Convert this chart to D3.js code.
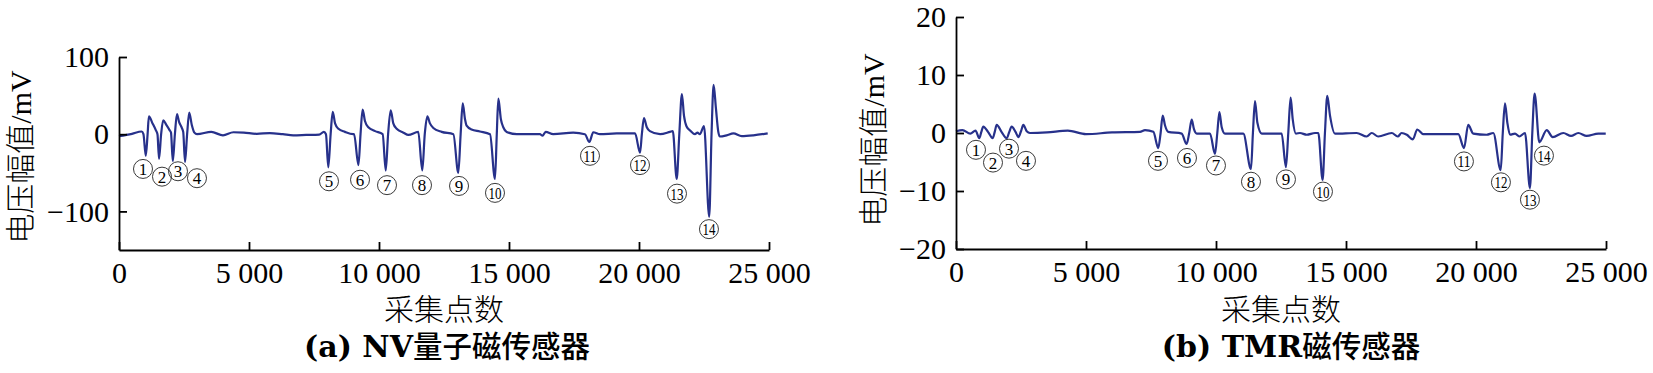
<!DOCTYPE html>
<html lang="zh">
<head>
<meta charset="utf-8">
<title>NV vs TMR</title>
<script src="https://cdn.jsdelivr.net/npm/d3@7"></script>
<style>
  body { margin: 0; background: #fff; }
  .curve { fill: none; stroke: #27318b; stroke-width: 2.2; stroke-linejoin: round; }
  .axis path, .axis line { stroke: #000; stroke-width: 1.8; }
  .tag circle { fill: none; stroke: #222; stroke-width: 0.9; }
</style>
</head>
<body>
<script>
// ---- data (sample index, voltage in mV) ----
var nvX = [0,500,870,940,1030,1100,1150,1290,1420,1480,1540,1620,1700,1820,1950,2000,2070,2150,2230,2310,2420,2470,2540,2620,2700,2800,2900,3000,3550,4000,4400,4800,5300,5800,6300,6700,7200,7700,7880,7960,8050,8140,8220,8310,8440,8690,9010,9040,9210,9290,9370,9460,9590,9850,10140,10260,10350,10450,10550,10680,10940,11130,11510,11665,11760,11860,11960,12090,12410,12860,13050,13140,13220,13310,13370,13560,13880,14270,14460,14530,14590,14690,14780,14910,15300,16190,16290,16410,16700,17470,17920,18090,18240,18500,19140,19850,20040,20110,20190,20300,20420,20810,21190,21300,21450,21550,21650,21730,21830,21990,22150,22250,22340,22500,22700,22790,22870,22960,23050,23110,23370,23630,23950,24400,24950];
var nvV = [-2.5,0.5,3.5,0,-28,0,23,14,5,0,-32,0,18,12,5,2,-35,0,26,16,8,3,-36,0,28,12,2,0,3,-1.5,2.5,2,0.5,1.5,0,-1.5,-1,-0.5,3,0,-43,0,29,14,7,3,0,0,-40,0,32,17,9,4,0,-47,0,31,14,7,2,-1,3,-47,0,23,14,8,3,0,-50,0,40,19,11,6,3.5,0,-58,0,46,19,9,3,0,0,-2,3,0,2,0,-10,2.5,0,1,1,-24,0,21,9,4,0,3,4,-58,0,52,24,10,4,0,2,0,10.5,-107,0,64,33,3,-3,-1.5,1,-2.5,-1.5,1];

var tmrX = [0,250,550,750,897,975,1050,1230,1410,1490,1565,1750,1950,2050,2140,2290,2400,2500,2590,2720,2846,3500,4300,5000,6000,7077,7270,7590,7780,7870,7950,8040,8165,8680,8870,8970,9065,9150,9260,9770,9960,10050,10130,10220,10345,11050,11345,11420,11500,11590,11760,12525,12690,12780,12870,12950,13075,13230,13490,13810,13935,14100,14190,14280,14385,14575,15410,15795,15990,16240,16760,16990,17140,17340,17570,17740,17970,19320,19540,19700,19895,20410,20665,20950,21030,21115,21205,21310,21500,21665,21885,22075,22165,22255,22435,22720,22950,23360,23655,23935,24255,24705,24990];
var tmrV = [0.3,0.5,-0.1,0.4,-0.9,0.2,1.1,0.2,-0.9,0.2,1.4,0.2,-0.9,0.2,1.1,0.2,-0.7,0.3,1.4,0.3,0,0.1,0.4,-0.2,0.1,0.2,0.5,0.2,-2.6,0,3.0,1.3,0.2,-0.1,-1.9,0,2.3,0.7,-0.1,-0.1,-3.6,0,3.6,1.0,-0.1,-0.1,-6.2,0,5.5,1.8,-0.1,-0.1,-5.9,0,6.1,2.4,-0.1,0,-0.3,0,0,-8.1,0,6.4,3.0,-0.1,0,-0.6,0,-0.6,0,-0.6,0,-0.3,-1.1,0.6,-0.2,-0.2,-2.6,1.4,-0.1,-0.3,0,-6.4,0,5.1,1.8,-0.3,-0.1,-0.6,0,-9.5,0,6.8,-1.6,0.5,-0.7,0,-0.5,0,-0.5,-0.1,-0.1];

// circled event labels: sample position and value where the label sits
var tagNames = ["1","2","3","4","5","6","7","8","9","10","11","12","13","14"];
var nvTagX = [923,1654,2269,2999,8077,9270,10308,11654,13078,14461,18115,20038,21461,22691];
var nvTagV = [-45,-55,-48,-57,-61,-59,-66,-66,-67,-76,-28,-40,-77,-123];
var tmrTagX = [769,1423,2038,2692,7769,8884,9999,11345,12691,14114,19536,20959,22075,22613];
var tmrTagV = [-2.9,-5.1,-2.7,-4.8,-4.8,-4.3,-5.6,-8.4,-8.0,-10.1,-4.9,-8.5,-11.5,-3.9];

// axes
var xTicks = [0,5000,10000,15000,20000,25000];
var xTickLabels = ["0","5 000","10 000","15 000","20 000","25 000"];
var nvYTicks = [-100,0,100];
var nvYTickLabels = ["\u2212100","0","100"];
var tmrYTicks = [-20,-10,0,10,20];
var tmrYTickLabels = ["\u221220","\u221210","0","10","20"];

var w = 1653, h = 373;
var serif = "'Liberation Serif','Times New Roman',serif";
var cjkSerif = "'Liberation Serif','Noto Sans CJK SC',serif";

var svg = d3.select("body").append("svg")
  .attr("width", w).attr("height", h);

function panel(opt) {
  var xScale = d3.scaleLinear().domain([0, 25000]).range([opt.left, opt.left + 650]);
  var yScale = d3.scaleLinear().domain(opt.yDomain).range([opt.bottom, opt.top]);

  var line = d3.line()
    .x(function(d){ return xScale(d[0]); })
    .y(function(d){ return yScale(d[1]); })
    .curve(d3.curveMonotoneX);

  var pts = d3.zip(opt.xs, opt.vs);
  svg.append("path").datum(pts).attr("class", "curve").attr("d", line);

  var xAxis = d3.axisBottom(xScale).tickValues(xTicks).tickSize(-8).tickSizeOuter(0)
    .tickPadding(12).tickFormat(function(d, i){ return xTickLabels[i]; });
  var yAxis = d3.axisLeft(yScale).tickValues(opt.yTicks).tickSize(-8).tickSizeOuter(0)
    .tickPadding(10).tickFormat(function(d, i){ return opt.yLabels[i]; });

  var gx = svg.append("g").attr("class", "axis")
    .attr("transform", "translate(0," + opt.bottom + ")").call(xAxis);
  var gy = svg.append("g").attr("class", "axis")
    .attr("transform", "translate(" + opt.left + ",0)").call(yAxis);
  [gx, gy].forEach(function(g){
    g.attr("font-family", serif).attr("font-size", 30);
    g.selectAll("text").attr("fill", "#000");
  });

  // circled numbers
  var tags = svg.append("g").selectAll("g.tag")
    .data(d3.zip(opt.tagX, opt.tagV, tagNames))
    .join("g").attr("class", "tag")
    .attr("transform", function(d){ return "translate(" + xScale(d[0]) + "," + yScale(d[1]) + ")"; });
  tags.append("circle").attr("r", 9.5);
  tags.append("text")
    .attr("text-anchor", "middle").attr("y", 6)
    .attr("font-family", serif).attr("font-size", 17).attr("fill", "#000")
    .each(function(d){
      if (d[2].length > 1) d3.select(this).attr("textLength", 13).attr("lengthAdjust", "spacingAndGlyphs");
    })
    .text(function(d){ return d[2]; });

  // y title
  svg.append("text")
    .attr("transform", "translate(" + opt.yTitleX + "," + opt.yTitleY + ") rotate(-90)")
    .attr("text-anchor", "middle")
    .attr("font-family", cjkSerif).attr("font-size", 30).attr("font-weight", 300)
    .text("电压幅值/mV");

  // x title
  var mid = (xScale.range()[0] + xScale.range()[1]) / 2;
  svg.append("text")
    .attr("x", mid).attr("y", 320).attr("text-anchor", "middle")
    .attr("font-family", cjkSerif).attr("font-size", 30).attr("font-weight", 300)
    .text("采集点数");

  // caption
  var cap = svg.append("text")
    .attr("x", mid + opt.capShift).attr("y", 357).attr("text-anchor", "middle")
    .attr("font-size", 29.5);
  cap.append("tspan").attr("font-family", "'DejaVu Serif',serif").attr("font-weight", "bold")
    .attr("font-size", 30).text(opt.capLatin);
  cap.append("tspan").attr("font-family", "'Noto Sans CJK SC',sans-serif").attr("font-weight", 500)
    .text(opt.capCjk);
}

panel({
  left: 119, top: 57, bottom: 250, yDomain: [-150, 100],
  yTicks: nvYTicks, yLabels: nvYTickLabels,
  xs: nvX, vs: nvV, tagX: nvTagX, tagV: nvTagV,
  yTitleX: 31, yTitleY: 157, capShift: 3,
  capLatin: "(a) NV", capCjk: "量子磁传感器"
});

panel({
  left: 956, top: 17, bottom: 249, yDomain: [-20, 20],
  yTicks: tmrYTicks, yLabels: tmrYTickLabels,
  xs: tmrX, vs: tmrV, tagX: tmrTagX, tagV: tmrTagV,
  yTitleX: 884, yTitleY: 140, capShift: 10,
  capLatin: "(b) TMR", capCjk: "磁传感器"
});
</script>
</body>
</html>
